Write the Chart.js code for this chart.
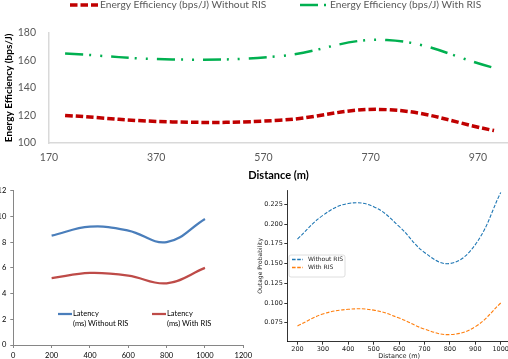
<!DOCTYPE html>
<html>
<head>
<meta charset="utf-8">
<script src="https://cdn.jsdelivr.net/npm/chart.js@4.4.1/dist/chart.umd.min.js"></script>
<style>
  html, body { margin: 0; padding: 0; background: #fff; width: 508px; height: 359px; overflow: hidden; position: relative; }
  canvas { position: absolute; display: block; }
  #ee-chart { left: 0; top: 0; z-index: 2; background: #fff; }
  #lat-chart { left: 0; top: 178px; }
  #out-chart { left: 255px; top: 178px; }
</style>
</head>
<body>
<canvas id="ee-chart" width="508" height="186"></canvas>
<canvas id="lat-chart" width="255" height="181"></canvas>
<canvas id="out-chart" width="258" height="184"></canvas>
<script>
// top: energy efficiency
const effDistance = [200, 400, 600, 800, 1000];
const effWithoutRis = [120, 115.3, 116.5, 124.2, 109];
const effWithRis = [165, 160.6, 163, 174.7, 154.5];
const effXTicks = [170, 370, 570, 770, 970];

// bottom left: latency
const latDistance = [200, 400, 600, 800, 1000];
const latWithoutRis = [8.5, 9.2, 8.9, 8.0, 9.8];
const latWithRis = [5.2, 5.6, 5.4, 4.8, 6.0];
const latXTicks = [0, 200, 400, 600, 800, 1000, 1200];
const latLegend = [["Latency", "(ms) Without RIS"], ["Latency", "(ms) With RIS"]];

// bottom right: outage probability
const outDistance = [200, 300, 400, 500, 600, 700, 800, 900, 1000];
const outWithoutRis = [0.181, 0.211, 0.226, 0.222, 0.197, 0.164, 0.150, 0.174, 0.240];
const outWithRis = [0.071, 0.086, 0.092, 0.091, 0.081, 0.067, 0.060, 0.070, 0.100];
const outXTicks = [200, 300, 400, 500, 600, 700, 800, 900, 1000];
const outYTicks = [0.075, 0.100, 0.125, 0.150, 0.175, 0.200, 0.225];

function pairs(xs, ys) {
  return xs.map(function (x, i) {
    return { x: x, y: ys[i] };
  });
}

function fixedTicks(values) {
  return function (scale) {
    scale.ticks = values.map(function (v) {
      return { value: v };
    });
  };
}

function plainLabel(v) {
  return String(v);
}

const customLegend = {
  id: "customLegend",
  afterDraw(chart, args, opts) {
    const ctx = chart.ctx;
    ctx.save();
    if (opts.box) {
      const b = opts.box;
      ctx.fillStyle = "rgba(255,255,255,0.8)";
      ctx.strokeStyle = "#d5d5d5";
      ctx.lineWidth = 0.8;
      ctx.beginPath();
      ctx.roundRect(b.x, b.y, b.w, b.h, 2);
      ctx.fill();
      ctx.stroke();
    }
    opts.items.forEach(function (item, i) {
      const ds = chart.data.datasets[i];
      ctx.strokeStyle = ds.borderColor;
      ctx.lineWidth = opts.lineWidth || ds.borderWidth;
      ctx.setLineDash(ds.borderDash || []);
      ctx.beginPath();
      ctx.moveTo(item.x, item.y);
      ctx.lineTo(item.x + opts.lineLength, item.y);
      ctx.stroke();
      ctx.setLineDash([]);
      ctx.fillStyle = opts.color;
      ctx.font = opts.font;
      ctx.textBaseline = "middle";
      const lines = item.lines || [ds.label];
      lines.forEach(function (line, j) {
        ctx.fillText(line, item.x + opts.lineLength + opts.gap, item.y + j * opts.lineHeight);
      });
    });
    ctx.restore();
  },
};

const calibri = "Lato, 'Open Sans', sans-serif";
const dejavu = "'DejaVu Sans', sans-serif";

new Chart(document.getElementById("ee-chart"), {
  type: "line",
  data: {
    datasets: [
      {
        label: "Energy Efficiency (bps/J) Without RIS",
        data: pairs(effDistance, effWithoutRis),
        borderColor: "#C00000",
        borderWidth: 3.5,
        borderDash: [7.5, 3],
        tension: 0.4,
        pointRadius: 0,
      },
      {
        label: "Energy Efficiency (bps/J) With RIS",
        data: pairs(effDistance, effWithRis),
        borderColor: "#00B050",
        borderWidth: 2.5,
        borderDash: [18, 6, 2, 9, 2, 9],
        tension: 0.4,
        pointRadius: 0,
      },
    ],
  },
  options: {
    responsive: false,
    animation: false,
    layout: { padding: { top: 32.7, left: 0, right: 0, bottom: 0 } },
    plugins: {
      legend: { display: false },
      tooltip: { enabled: false },
      customLegend: {
        items: [{ x: 70, y: 5 }, { x: 300, y: 5 }],
        lineLength: 28,
        gap: 2,
        lineHeight: 11,
        color: "#595959",
        font: "10.2px " + calibri,
      },
    },
    scales: {
      x: {
        type: "linear",
        min: 170,
        max: 1026,
        afterBuildTicks: fixedTicks(effXTicks),
        afterFit: function (s) { s.height = 43; },
        grid: { display: false, drawTicks: false },
        border: { display: true, color: "#d9d9d9", width: 1.5 },
        ticks: { color: "#595959", font: { family: calibri, size: 10.5 }, padding: 8, maxRotation: 0, autoSkip: false, callback: plainLabel },
        title: { display: true, text: "Distance (m)", color: "#000", font: { family: calibri, size: 11, weight: "bold" }, padding: { top: 0, bottom: 4.4 } },
      },
      y: {
        min: 100,
        max: 180,
        afterFit: function (s) { s.width = 49; },
        grid: { display: false, drawTicks: false },
        border: { display: true, color: "#d9d9d9", width: 1.5 },
        ticks: { stepSize: 20, color: "#595959", font: { family: calibri, size: 10.5 }, padding: 13 },
        title: { display: true, text: "Energy Efficiency (bps/J)", color: "#000", font: { family: calibri, size: 10, weight: "bold" }, padding: { top: 3, bottom: 0 } },
      },
    },
  },
  plugins: [customLegend],
});

new Chart(document.getElementById("lat-chart"), {
  type: "line",
  data: {
    datasets: [
      {
        label: "Latency (ms) Without RIS",
        data: pairs(latDistance, latWithoutRis),
        borderColor: "#4A7EBB",
        borderWidth: 2.25,
        tension: 0.4,
        pointRadius: 0,
      },
      {
        label: "Latency (ms) With RIS",
        data: pairs(latDistance, latWithRis),
        borderColor: "#BE4B48",
        borderWidth: 2.25,
        tension: 0.4,
        pointRadius: 0,
      },
    ],
  },
  options: {
    responsive: false,
    animation: false,
    layout: { padding: { top: 12.7, left: 0, right: 11.4, bottom: 0 } },
    plugins: {
      legend: { display: false },
      tooltip: { enabled: false },
      customLegend: {
        items: [
          { x: 58, y: 136, lines: latLegend[0] },
          { x: 152, y: 136, lines: latLegend[1] },
        ],
        lineLength: 14,
        gap: 1,
        lineHeight: 10,
        color: "#000",
        font: "7.5px " + calibri,
      },
    },
    scales: {
      x: {
        type: "linear",
        min: 0,
        max: 1200,
        afterBuildTicks: fixedTicks(latXTicks),
        afterFit: function (s) { s.height = 14; },
        grid: { display: true, drawOnChartArea: false, tickLength: 3, color: "#868686" },
        border: { display: true, color: "#868686", width: 1 },
        ticks: { color: "#000", font: { family: calibri, size: 7.5 }, padding: 3, maxRotation: 0, autoSkip: false, callback: plainLabel },
      },
      y: {
        min: 0,
        max: 12,
        afterFit: function (s) { s.width = 13.3; },
        grid: { display: true, drawOnChartArea: false, tickLength: 3, color: "#868686" },
        border: { display: true, color: "#868686", width: 1 },
        ticks: { stepSize: 2, color: "#000", font: { family: calibri, size: 7.5 }, padding: 4 },
      },
    },
  },
  plugins: [customLegend],
});

new Chart(document.getElementById("out-chart"), {
  type: "line",
  data: {
    datasets: [
      {
        label: "Without RIS",
        data: pairs(outDistance, outWithoutRis),
        borderColor: "#1f77b4",
        borderWidth: 1.1,
        borderDash: [3.6, 1.6],
        tension: 0.4,
        pointRadius: 0,
      },
      {
        label: "With RIS",
        data: pairs(outDistance, outWithRis),
        borderColor: "#ff7f0e",
        borderWidth: 1.1,
        borderDash: [3.6, 1.6],
        tension: 0.4,
        pointRadius: 0,
      },
    ],
  },
  options: {
    responsive: false,
    animation: false,
    layout: { padding: { top: 12, left: 0, right: 2.1, bottom: 0 } },
    plugins: {
      legend: { display: false },
      tooltip: { enabled: false },
      customLegend: {
        box: { x: 34, y: 77, w: 56, h: 22 },
        items: [{ x: 37, y: 81.5 }, { x: 37, y: 89.5 }],
        lineLength: 11,
        lineWidth: 1.4,
        gap: 5,
        lineHeight: 8,
        color: "#222",
        font: "6px " + dejavu,
      },
    },
    scales: {
      x: {
        type: "linear",
        min: 160,
        max: 1040,
        afterBuildTicks: fixedTicks(outXTicks),
        afterFit: function (s) { s.height = 20.3; },
        grid: { display: true, drawOnChartArea: false, tickLength: 3, color: "#000", lineWidth: 0.8 },
        border: { display: true, color: "#000", width: 0.8 },
        ticks: { color: "#222", font: { family: dejavu, size: 6.5 }, padding: 1, maxRotation: 0, autoSkip: false, callback: plainLabel },
        title: { display: true, text: "Distance (m)", color: "#222", font: { family: dejavu, size: 6.5 }, padding: { top: 0, bottom: 2.1 } },
      },
      y: {
        min: 0.051,
        max: 0.2431,
        afterBuildTicks: fixedTicks(outYTicks),
        afterFit: function (s) { s.width = 32.3; },
        grid: { display: true, drawOnChartArea: false, tickLength: 3, color: "#000", lineWidth: 0.8 },
        border: { display: true, color: "#000", width: 0.8 },
        ticks: {
          color: "#222",
          font: { family: dejavu, size: 6.5 },
          padding: 1.5,
          callback: function (v) { return v.toFixed(3); },
        },
        title: { display: true, text: "Outage Probability", color: "#222", font: { family: dejavu, size: 6 }, padding: { top: 1.4, bottom: 0 } },
      },
    },
  },
  plugins: [customLegend],
});
</script>
</body>
</html>
